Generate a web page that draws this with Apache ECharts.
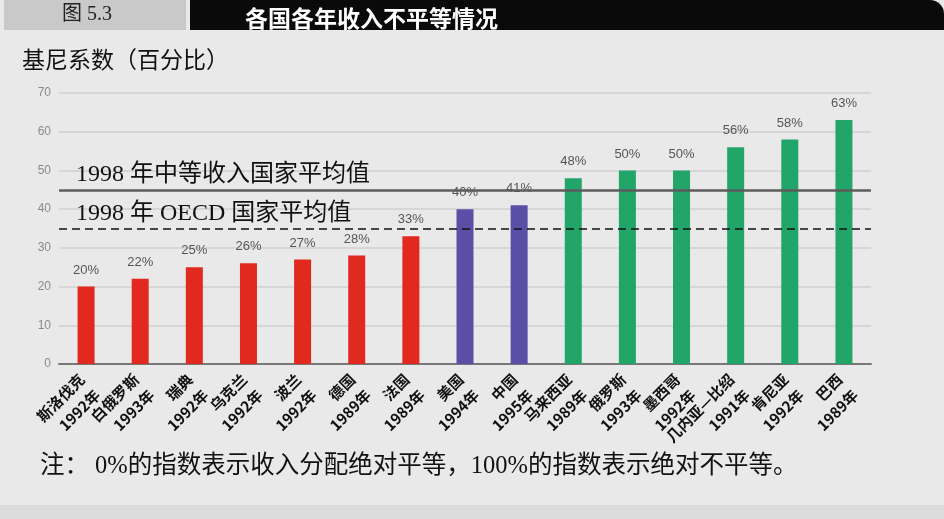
<!DOCTYPE html>
<html><head><meta charset="utf-8">
<script src="https://cdn.jsdelivr.net/npm/echarts@6/dist/echarts.min.js"></script>
<style>html,body{margin:0;padding:0;background:#e9e9e9;}#c{width:944px;height:519px;}</style>
</head><body><div id="c"></div>
<script>
const countries = ['斯洛伐克','白俄罗斯','瑞典','乌克兰','波兰','德国','法国','美国','中国','马来西亚','俄罗斯','墨西哥','几内亚—比绍','肯尼亚','巴西'];
const years = ['1992年','1993年','1992年','1992年','1992年','1989年','1989年','1994年','1995年','1989年','1993年','1992年','1991年','1992年','1989年'];
const gini = [20,22,25,26,27,28,33,40,41,48,50,50,56,58,63];
const groupOf = [0,0,0,0,0,0,0,1,1,2,2,2,2,2,2];
const refNames = ['1998 年中等收入国家平均值','1998 年 OECD 国家平均值'];
const refValues = [45,35];
const yTicks = [0,10,20,30,40,50,60,70];

const groupColors = ['#e1291f','#5a4ea6','#22a569'];
const cjk = "'Noto Sans CJK SC', sans-serif";
const serifCjk = "'Liberation Serif', 'Noto Sans CJK SC', serif";

const chart = echarts.init(document.getElementById('c'), null, {renderer:'canvas'});
chart.setOption({
  backgroundColor: '#e9e9e9',
  animation: false,
  graphic: [
    {type:'rect', left:4, top:0, shape:{width:182, height:30}, style:{fill:'#c9c9c9'}},
    {type:'rect', left:190, top:0, shape:{width:754, height:30, r:[0,14,0,0]}, style:{fill:'#0a0a0a'}},
    {type:'text', left:62, top:5, style:{text:'图 5.3', font:"20px 'Liberation Serif', 'Noto Sans CJK SC', serif", fill:'#222'}},
    {type:'text', left:245, top:7, style:{text:'各国各年收入不平等情况', font:"bold 23px 'Noto Sans CJK SC', sans-serif", fill:'#fff'}},
    {type:'rect', left:190, top:30, shape:{width:754, height:10}, style:{fill:'#e9e9e9'}},
    {type:'text', left:22, top:48, style:{text:'基尼系数（百分比）', font:"23px 'Noto Sans CJK SC', sans-serif", fill:'#111'}},
    {type:'text', left:40, top:454, style:{text:'注： 0%的指数表示收入分配绝对平等，100%的指数表示绝对不平等。', font:"24.5px " + serifCjk, fill:'#111'}},
    {type:'rect', left:0, top:505, shape:{width:944, height:14}, style:{fill:'#dcdcdc'}}
  ],
  grid: {left:59, right:73, top:93, bottom:155},
  xAxis: {
    type:'category',
    data: countries,
    axisLine:{show:true, lineStyle:{color:'#777', width:2}},
    axisTick:{show:false},
    axisLabel:{
      interval:0, rotate:45, margin:24,
      fontFamily:cjk, fontSize:15, fontWeight:'bold', color:'#111', lineHeight:22,
      verticalAlign:'middle',
      padding:[0,-5,0,0],
      formatter:(v, i) => v + '\n' + years[i]
    }
  },
  yAxis: {
    type:'value', min:0, max:70, interval:10,
    axisLine:{show:false}, axisTick:{show:false},
    axisLabel:{color:'#8a8a8a', fontSize:12, margin:8, fontFamily:'sans-serif',
      formatter:(v)=> yTicks.includes(v) ? String(v) : ''},
    splitLine:{lineStyle:{color:'#cfcfcf', width:1.5}}
  },
  series: [{
    type:'bar',
    barWidth:17,
    data: gini.map((v,i)=>({value:v, itemStyle:{color:groupColors[groupOf[i]]}})),
    label:{show:true, position:'top', distance:10, formatter:'{c}%', color:'#555', fontSize:13, fontFamily:'sans-serif'},
    markLine:{
      symbol:'none', silent:true,
      data:[
        {yAxis:refValues[0], name:refNames[0], lineStyle:{type:'solid', color:'#5c5c5c', width:2.5},
          label:{show:true, position:'insideStartTop', formatter:refNames[0], fontSize:24, fontFamily:serifCjk, color:'#111', padding:[0,0,0,14], distance:3}},
        {yAxis:refValues[1], name:refNames[1], lineStyle:{type:[8,5], color:'#111', width:1.5},
          label:{show:true, position:'insideStartTop', formatter:refNames[1], fontSize:24, fontFamily:serifCjk, color:'#111', padding:[0,0,0,14], distance:3}}
      ]
    }
  }]
});
</script></body></html>
